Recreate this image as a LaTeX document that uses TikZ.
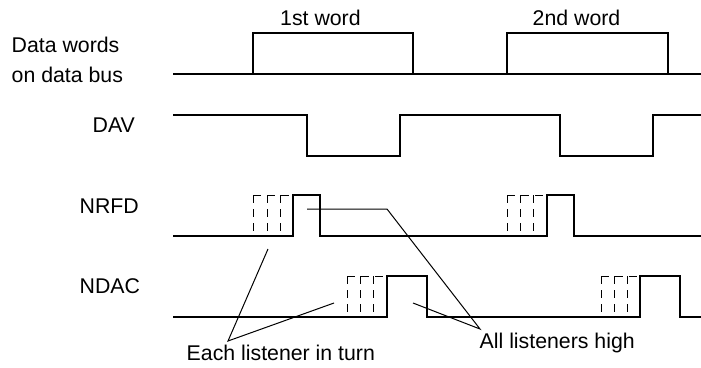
\documentclass[tikz,border=0pt]{standalone}
\usepackage{fontspec}
\setmainfont{Liberation Sans}
\begin{document}
\begin{tikzpicture}[x=1pt,y=-1pt,
  sig/.style={line width=2.4pt, line join=miter},
  ghost/.style={line width=0.9pt, dash pattern=on 8pt off 6pt},
  callout/.style={line width=1pt},
  lbl/.style={inner sep=0pt, anchor=base west, font=\fontsize{21.3}{25}\selectfont}]
\useasboundingbox (0,0) rectangle (701,367);

% labels
\node[lbl] (lw1) at (11.5,52) {Data words};
\node[lbl] (lw2) at (11.5,82) {on data bus};
\node[lbl] (ldav) at (92.5,132) {DAV};
\node[lbl] (lnrfd) at (79.5,213) {NRFD};
\node[lbl] (lndac) at (79.5,293) {NDAC};
\node[lbl] (w1) at (280,25) {1st word};
\node[lbl] (w2) at (532.5,25) {2nd word};
\node[lbl] (each) at (186.5,360) {Each listener in turn};
\node[lbl] (all) at (479.5,348) {All listeners high};

% data bus
\draw[sig] (173,74) -- (701,74);
\draw[sig] (253,74) rectangle (413,33);
\draw[sig] (507,74) rectangle (668,33);

% DAV
\draw[sig] (173,115) -- (307,115) -- (307,156) -- (400,156) -- (400,115)
  -- (560,115) -- (560,156) -- (653,156) -- (653,115) -- (701,115);

% NRFD
\draw[sig] (173,236) -- (293,236) -- (293,195) -- (320,195) -- (320,236)
  -- (547,236) -- (547,195) -- (574,195) -- (574,236) -- (701,236);
\foreach \x in {253,267,280} \draw[ghost] (\x,195) -- (\x,236);
\draw[ghost] (253,195) -- (293,195);
\foreach \x in {507,520,533} \draw[ghost] (\x,195) -- (\x,236);
\draw[ghost] (507,195) -- (547,195);

% NDAC
\draw[sig] (173,317) -- (387,317) -- (387,276) -- (427,276) -- (427,317)
  -- (640,317) -- (640,276) -- (680,276) -- (680,317) -- (701,317);
\foreach \x in {347,360,373} \draw[ghost] (\x,276) -- (\x,317);
\draw[ghost] (347,276) -- (387,276);
\foreach \x in {601,614,627} \draw[ghost] (\x,276) -- (\x,317);
\draw[ghost] (601,276) -- (640,276);

% callouts
\coordinate (ep) at (228,341);
\coordinate (e1) at (268,249);
\coordinate (e2) at (334,303);
\coordinate (ap) at (480,329);
\coordinate (a0) at (307,209);
\coordinate (a1) at (387,209);
\coordinate (a2) at (413,303);
\draw[callout] (e1) -- (ep) -- (e2);
\draw[callout] (a0) -- (a1) -- (ap) -- (a2);
\end{tikzpicture}
\end{document}
